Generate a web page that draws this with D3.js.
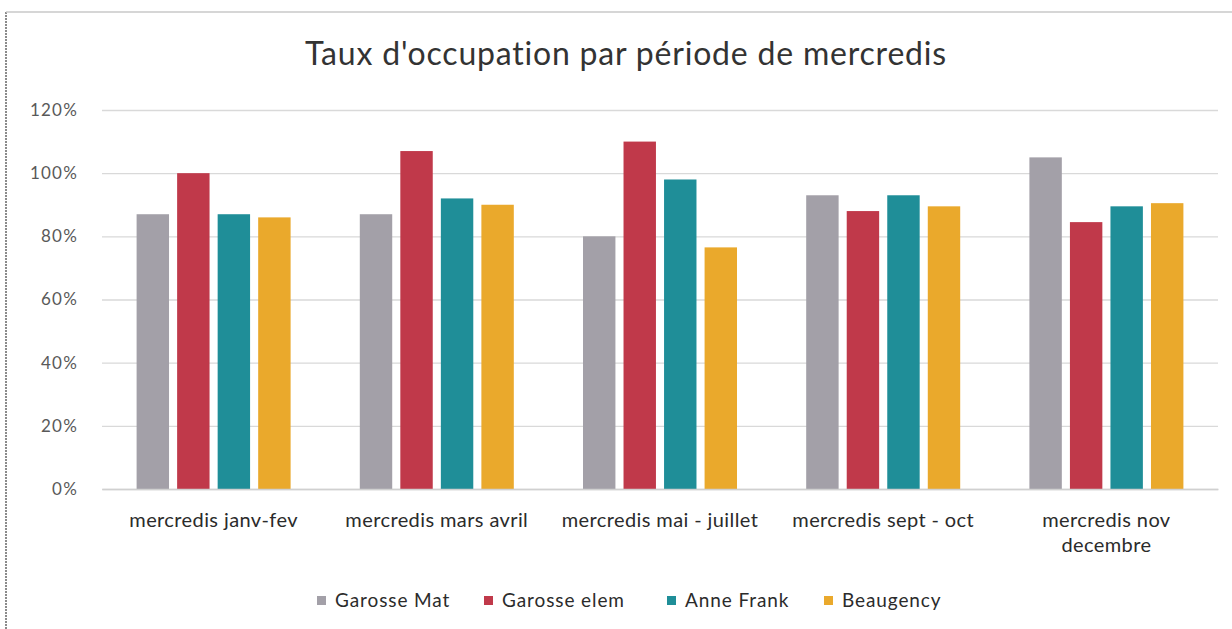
<!DOCTYPE html>
<html>
<head>
<meta charset="utf-8">
<script src="https://cdn.jsdelivr.net/npm/d3@7"></script>
<style>
  body { margin: 0; background: #fff; }
  svg text { font-family: Lato, "Open Sans", sans-serif; }
</style>
</head>
<body>
<div class="chart"></div>
<script>
var categories = ["mercredis janv-fev", "mercredis mars avril", "mercredis mai - juillet", "mercredis sept - oct", "mercredis nov decembre"];
var series = ["Garosse Mat", "Garosse elem", "Anne Frank", "Beaugency"];
var garosseMat = [0.87, 0.87, 0.80, 0.93, 1.05];
var garosseElem = [1.00, 1.07, 1.10, 0.88, 0.845];
var anneFrank = [0.87, 0.92, 0.98, 0.93, 0.895];
var beaugency = [0.86, 0.90, 0.765, 0.895, 0.905];
var yTicks = [0, 0.2, 0.4, 0.6, 0.8, 1.0, 1.2];
var colors = ["#a3a0a8", "#c0394a", "#1f8e98", "#eaa92c"];

var svgWidth = 1232, svgHeight = 629;
var margin = {top: 110, right: 14, bottom: 140, left: 102};
var width = svgWidth - margin.left - margin.right;
var height = svgHeight - margin.top - margin.bottom;

var values = [garosseMat, garosseElem, anneFrank, beaugency];
var data = categories.map(function(c, i) {
  return {cat: c, vals: series.map(function(s, j) { return {name: s, v: values[j][i], idx: j}; })};
});

var svg = d3.select(".chart").append("svg")
  .attr("width", svgWidth)
  .attr("height", svgHeight);

// scan frame
svg.append("line").attr("x1", 6).attr("x2", 6).attr("y1", 12).attr("y2", svgHeight)
  .attr("stroke", "#666").attr("stroke-width", 1.5).attr("stroke-dasharray", "2,1");
svg.append("line").attr("x1", 6).attr("x2", svgWidth).attr("y1", 12).attr("y2", 12)
  .attr("stroke", "#c8c8c8").attr("stroke-width", 1.5);

svg.append("text")
  .attr("x", 626).attr("y", 65)
  .attr("text-anchor", "middle")
  .attr("font-size", 32)
  .attr("letter-spacing", 0.8)
  .attr("fill", "#333")
  .text("Taux d'occupation par période de mercredis");

var chart = svg.append("g").attr("transform", "translate(" + margin.left + "," + margin.top + ")");

var x0 = d3.scaleBand().domain(categories).range([0, width]).paddingInner(0.31).paddingOuter(0.155);
var x1 = d3.scaleBand().domain(series).range([0, x0.bandwidth()]).paddingInner(0.2);
var y = d3.scaleLinear().domain([0, 1.2]).range([height, 0]);

// gridlines
chart.append("g")
  .call(d3.axisLeft(y).tickValues(yTicks).tickSize(-width).tickFormat(""))
  .call(function(g) { g.select(".domain").remove(); })
  .selectAll("line").attr("stroke", "#d9d9d9").attr("stroke-width", 1.3);

// y labels
chart.append("g")
  .call(d3.axisLeft(y).tickValues(yTicks).tickSize(0).tickPadding(24).tickFormat(d3.format(".0%")))
  .call(function(g) { g.select(".domain").remove(); })
  .selectAll("text").attr("font-size", 17).attr("letter-spacing", 1.2).attr("fill", "#595959")
  .style("font-family", "Lato, sans-serif");

chart.selectAll(".grp")
  .data(data)
  .enter().append("g")
  .attr("class", "grp")
  .attr("transform", function(d) { return "translate(" + x0(d.cat) + ",0)"; })
  .selectAll("rect")
  .data(function(d) { return d.vals; })
  .enter().append("rect")
  .attr("x", function(d) { return x1(d.name); })
  .attr("y", function(d) { return y(d.v); })
  .attr("width", x1.bandwidth())
  .attr("height", function(d) { return height - y(d.v); })
  .attr("fill", function(d) { return colors[d.idx]; });

// x axis
var xAxis = chart.append("g")
  .attr("transform", "translate(0," + height + ")")
  .call(d3.axisBottom(x0).tickSize(0).tickPadding(0));
xAxis.select(".domain").attr("stroke", "#d0d0d0").attr("stroke-width", 1.3);
xAxis.selectAll("text").remove();
xAxis.selectAll(".tick").each(function(d) {
  var t = d3.select(this).append("text")
    .attr("text-anchor", "middle")
    .attr("font-size", 20)
    .attr("letter-spacing", 0.4)
    .attr("fill", "#2b2b2b")
    .style("font-family", "Lato, sans-serif");
  if (d === "mercredis nov decembre") {
    t.append("tspan").attr("x", 0).attr("y", 38).text("mercredis nov");
    t.append("tspan").attr("x", 0).attr("y", 63).text("decembre");
  } else {
    t.attr("y", 38).text(d);
  }
});

// legend
var legendX = [317, 484, 667, 824];
var legend = svg.selectAll(".legend")
  .data(series)
  .enter().append("g")
  .attr("class", "legend")
  .attr("transform", function(d, i) { return "translate(" + legendX[i] + ",602)"; });
legend.append("rect").attr("x", 0).attr("y", -6).attr("width", 9).attr("height", 9)
  .attr("fill", function(d, i) { return colors[i]; });
legend.append("text").attr("x", 18).attr("y", 5)
  .attr("font-size", 19).attr("letter-spacing", 0.9).attr("fill", "#2b2b2b")
  .text(function(d) { return d; });
</script>
</body>
</html>
